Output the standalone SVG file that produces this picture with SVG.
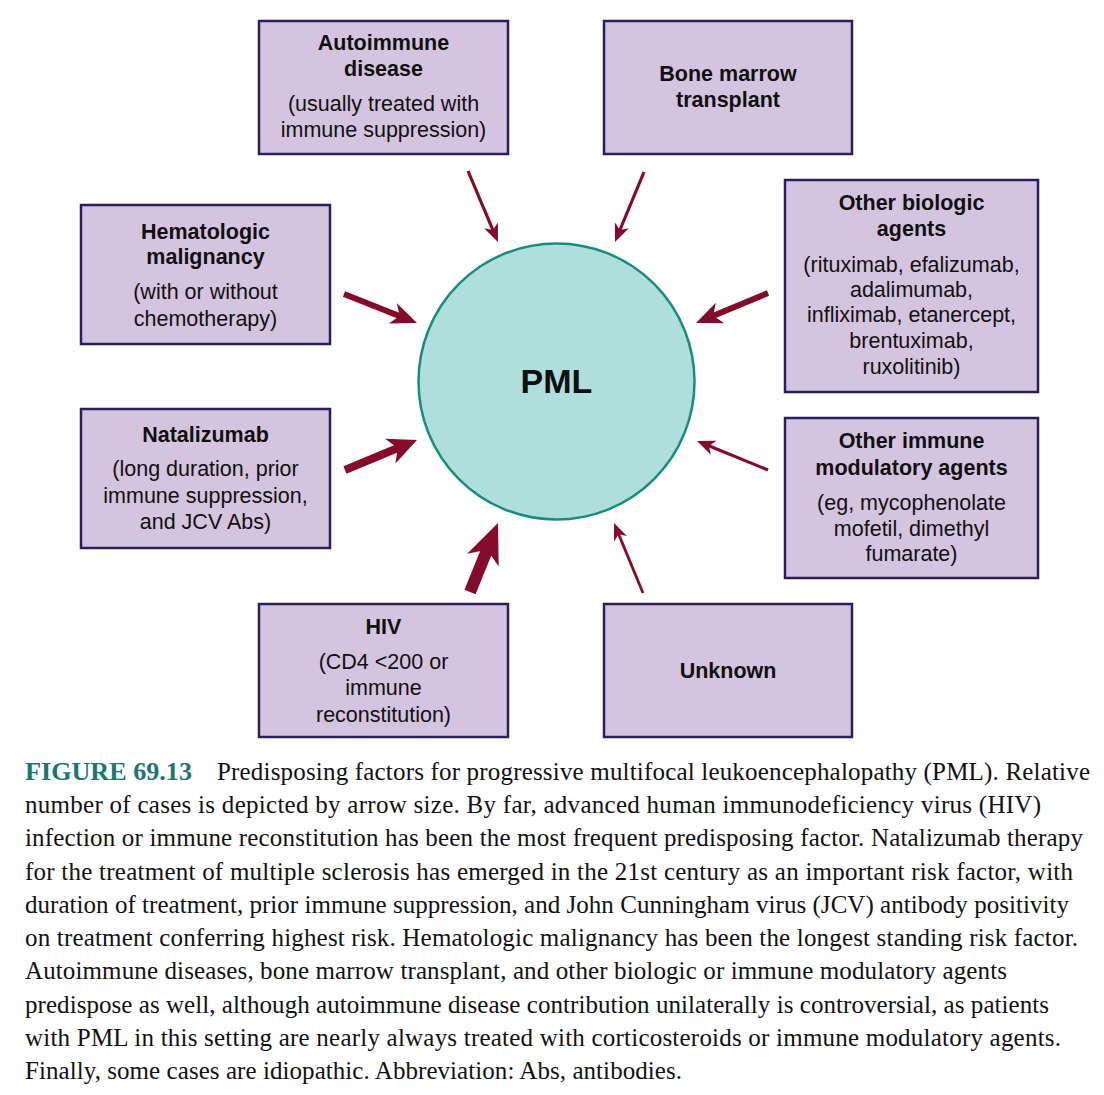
<svg xmlns="http://www.w3.org/2000/svg" xmlns:xlink="http://www.w3.org/1999/xlink" width="1104" height="1095" viewBox="0 0 1104 1095">
<style>
.box{fill:#d5c4e0;stroke:#2c1d5c;stroke-width:2.5}
.t{font-family:"Liberation Sans",Arial,sans-serif;font-size:21.5px;fill:#101010;text-anchor:middle}
.b{font-weight:bold}
.shaft{stroke:#850b2b;fill:none}
.head{fill:#850b2b}
.cap{font-family:"Liberation Serif","Times New Roman",serif;font-size:25px;fill:#111111}
.fig{font-weight:bold;fill:#1c7770}
</style>
<defs>
<path id="ah" d="M0,0 L-1,-0.5 L-0.72,0 L-1,0.5 Z"/>
</defs>
<rect width="1104" height="1095" fill="#ffffff"/>

<g id="pml">
<circle cx="556.5" cy="381.5" r="138" fill="#afdfdc" stroke="#198c7e" stroke-width="2.5"/>
<text x="556.5" y="393" class="t b" style="font-size:34px">PML</text>
</g>

<g id="autoimmune">
<rect class="box" x="259" y="21" width="249" height="133"/>
<text class="t b" x="383.5" y="50">Autoimmune</text>
<text class="t b" x="383.5" y="76">disease</text>
<text class="t" x="383.5" y="111">(usually treated with</text>
<text class="t" x="383.5" y="137">immune suppression)</text>
</g>

<g id="bonemarrow">
<rect class="box" x="604" y="21" width="248" height="133"/>
<text class="t b" x="728" y="81">Bone marrow</text>
<text class="t b" x="728" y="107">transplant</text>
</g>

<g id="hematologic">
<rect class="box" x="81" y="205" width="249" height="139"/>
<text class="t b" x="205.5" y="239">Hematologic</text>
<text class="t b" x="205.5" y="264">malignancy</text>
<text class="t" x="205.5" y="299">(with or without</text>
<text class="t" x="205.5" y="326">chemotherapy)</text>
</g>

<g id="natalizumab">
<rect class="box" x="81" y="409" width="249" height="139"/>
<text class="t b" x="205.5" y="442">Natalizumab</text>
<text class="t" x="205.5" y="476">(long duration, prior</text>
<text class="t" x="205.5" y="503">immune suppression,</text>
<text class="t" x="205.5" y="529">and JCV Abs)</text>
</g>

<g id="otherbiologic">
<rect class="box" x="785" y="180" width="253" height="212"/>
<text class="t b" x="911.5" y="210">Other biologic</text>
<text class="t b" x="911.5" y="236">agents</text>
<text class="t" x="911.5" y="272">(rituximab, efalizumab,</text>
<text class="t" x="911.5" y="297">adalimumab,</text>
<text class="t" x="911.5" y="322">infliximab, etanercept,</text>
<text class="t" x="911.5" y="348">brentuximab,</text>
<text class="t" x="911.5" y="374">ruxolitinib)</text>
</g>

<g id="otherimmune">
<rect class="box" x="785" y="418" width="253" height="160"/>
<text class="t b" x="911.5" y="448">Other immune</text>
<text class="t b" x="911.5" y="475">modulatory agents</text>
<text class="t" x="911.5" y="510">(eg, mycophenolate</text>
<text class="t" x="911.5" y="536">mofetil, dimethyl</text>
<text class="t" x="911.5" y="561">fumarate)</text>
</g>

<g id="hiv">
<rect class="box" x="259" y="604" width="249" height="133"/>
<text class="t b" x="383.5" y="634">HIV</text>
<text class="t" x="383.5" y="669">(CD4 &lt;200 or</text>
<text class="t" x="383.5" y="695">immune</text>
<text class="t" x="383.5" y="722">reconstitution)</text>
</g>

<g id="unknown">
<rect class="box" x="604" y="604" width="248" height="133"/>
<text class="t b" x="728" y="678">Unknown</text>
</g>

<g id="connectors">
<line class="shaft" x1="468" y1="171" x2="493.8" y2="232.1" stroke-width="3.2"/>
<use xlink:href="#ah" href="#ah" class="head" transform="translate(498,242) rotate(67.1) scale(18,15)"/>
<line class="shaft" x1="644" y1="172" x2="619.1" y2="232" stroke-width="3.2"/>
<use xlink:href="#ah" href="#ah" class="head" transform="translate(615,242) rotate(112.5) scale(18,15)"/>
<line class="shaft" x1="344" y1="294" x2="402.5" y2="317.2" stroke-width="6"/>
<use xlink:href="#ah" href="#ah" class="head" transform="translate(417,323) rotate(21.7) scale(26,22)"/>
<line class="shaft" x1="345" y1="470" x2="400.9" y2="446.7" stroke-width="8"/>
<use xlink:href="#ah" href="#ah" class="head" transform="translate(417,440) rotate(-22.6) scale(29,27)"/>
<line class="shaft" x1="470" y1="592" x2="489" y2="545.2" stroke-width="12"/>
<use xlink:href="#ah" href="#ah" class="head" transform="translate(498,523) rotate(-67.9) scale(40,34)"/>
<line class="shaft" x1="643" y1="593" x2="617.9" y2="532.4" stroke-width="2.8"/>
<use xlink:href="#ah" href="#ah" class="head" transform="translate(614,523) rotate(-112.5) scale(17,14)"/>
<line class="shaft" x1="768" y1="293" x2="710.4" y2="317" stroke-width="6"/>
<use xlink:href="#ah" href="#ah" class="head" transform="translate(696,323) rotate(157.4) scale(26,22)"/>
<line class="shaft" x1="768" y1="470" x2="707" y2="445.1" stroke-width="3.2"/>
<use xlink:href="#ah" href="#ah" class="head" transform="translate(697,441) rotate(-157.8) scale(18,15)"/>
</g>

<g id="caption">
<text class="cap fig" x="25" y="780" textLength="167" lengthAdjust="spacingAndGlyphs">FIGURE 69.13</text>
<text class="cap" x="217" y="780" textLength="873" lengthAdjust="spacing">Predisposing factors for progressive multifocal leukoencephalopathy (PML). Relative</text>
<text class="cap" x="25" y="813" textLength="1016" lengthAdjust="spacing">number of cases is depicted by arrow size. By far, advanced human immunodeficiency virus (HIV)</text>
<text class="cap" x="25" y="846" textLength="1058" lengthAdjust="spacing">infection or immune reconstitution has been the most frequent predisposing factor. Natalizumab therapy</text>
<text class="cap" x="25" y="880" textLength="1048" lengthAdjust="spacing">for the treatment of multiple sclerosis has emerged in the 21st century as an important risk factor, with</text>
<text class="cap" x="25" y="913" textLength="1044" lengthAdjust="spacing">duration of treatment, prior immune suppression, and John Cunningham virus (JCV) antibody positivity</text>
<text class="cap" x="25" y="946" textLength="1053" lengthAdjust="spacing">on treatment conferring highest risk. Hematologic malignancy has been the longest standing risk factor.</text>
<text class="cap" x="25" y="979" textLength="982" lengthAdjust="spacing">Autoimmune diseases, bone marrow transplant, and other biologic or immune modulatory agents</text>
<text class="cap" x="25" y="1013" textLength="1024" lengthAdjust="spacing">predispose as well, although autoimmune disease contribution unilaterally is controversial, as patients</text>
<text class="cap" x="25" y="1046" textLength="1036" lengthAdjust="spacing">with PML in this setting are nearly always treated with corticosteroids or immune modulatory agents.</text>
<text class="cap" x="25" y="1079" textLength="657" lengthAdjust="spacing">Finally, some cases are idiopathic. Abbreviation: Abs, antibodies.</text>
</g>
</svg>
